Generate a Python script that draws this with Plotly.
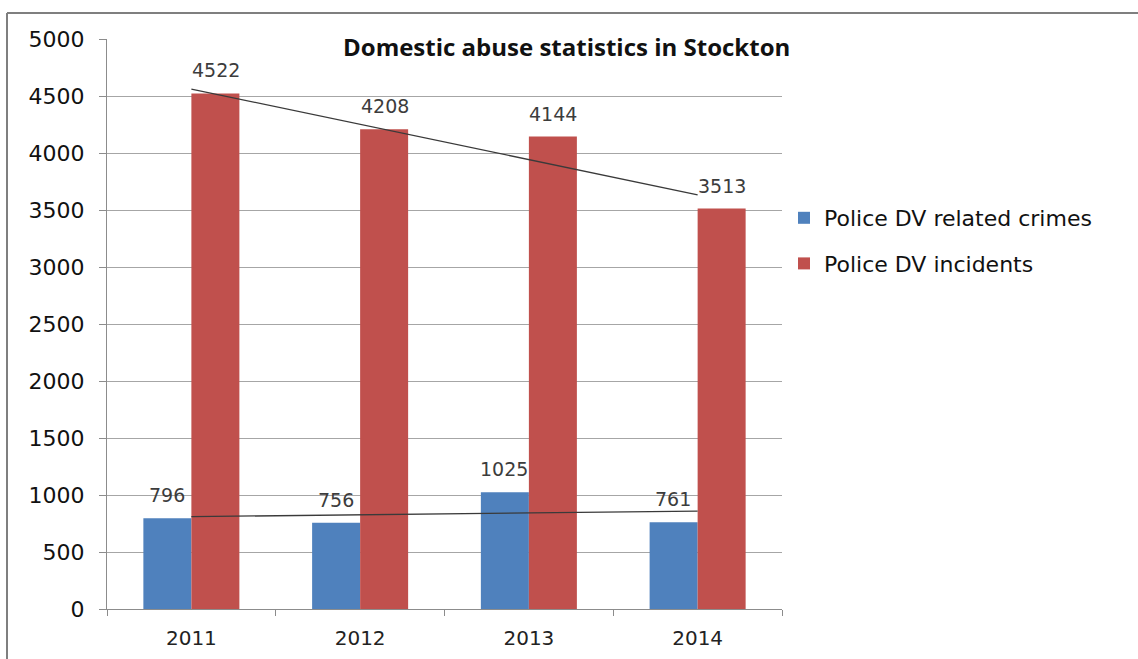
import numpy as np
import plotly.graph_objects as go

# Chart data
years = ["2011", "2012", "2013", "2014"]
dv_crimes = [796, 756, 1025, 761]
dv_incidents = [4522, 4208, 4144, 3513]
series_names = ["Police DV related crimes", "Police DV incidents"]
y_ticks = [0, 500, 1000, 1500, 2000, 2500, 3000, 3500, 4000, 4500, 5000]
title_text = "Domestic abuse statistics in Stockton"

BLUE = "#4F81BD"
RED = "#C0504D"
FONT = "DejaVu Sans"
TITLE_FONT = "Open Sans"

W, H = 1138, 659
ML, MR, MT, MB = 107, 356, 39, 50
PW, PH = W - ML - MR, H - MT - MB


def px_x(px):
    return (px - ML) / PW


def px_y(py):
    return 1 - (py - MT) / PH


fig = go.Figure()
fig.add_trace(go.Bar(x=years, y=dv_crimes, name=series_names[0],
                     marker=dict(color=BLUE, line=dict(width=0)),
                     legendgroup="a"))
fig.add_trace(go.Bar(x=years, y=dv_incidents, name=series_names[1],
                     marker=dict(color=RED, line=dict(width=0)),
                     legendgroup="b"))

# Linear trendlines through the category centres
idx = np.arange(len(years))
for vals in (dv_crimes, dv_incidents):
    slope, icpt = np.polyfit(idx, vals, 1)
    fit = slope * idx + icpt
    fig.add_trace(go.Scatter(x=[years[0], years[-1]], y=[float(fit[0]), float(fit[-1])],
                             mode="lines", showlegend=False, hoverinfo="skip",
                             line=dict(color="#3a3a3a", width=1.3)))

# Value labels above each bar
ann = []
bar_half = 24.4
for shift, vals in ((-bar_half, dv_crimes), (bar_half, dv_incidents)):
    for yr, v in zip(years, vals):
        ann.append(dict(x=years.index(yr), xref="x", y=v, text=str(v),
                        showarrow=False, xshift=shift, yshift=23,
                        yanchor="middle",
                        font=dict(family=FONT, size=19, color="#3c3c3c")))

ann.append(dict(xref="paper", yref="paper", x=px_x(566), y=px_y(46),
                text="<b>" + title_text + "</b>", showarrow=False,
                xanchor="center", yanchor="middle", bgcolor="white",
                font=dict(family=TITLE_FONT, size=24, color="#111111")))

shapes = [
    dict(type="line", xref="paper", yref="paper", x0=px_x(7), x1=px_x(7),
         y0=px_y(13), y1=px_y(H + 5), line=dict(color="#7f7f7f", width=2)),
    dict(type="line", xref="paper", yref="paper", x0=px_x(7), x1=px_x(W + 5),
         y0=px_y(13), y1=px_y(13), line=dict(color="#7f7f7f", width=2)),
]

fig.update_layout(
    width=W, height=H,
    margin=dict(l=ML, r=MR, t=MT, b=MB, pad=0, autoexpand=False),
    paper_bgcolor="white", plot_bgcolor="white",
    barmode="group", bargap=0.431, bargroupgap=0,
    showlegend=True,
    legend=dict(x=px_x(784), y=px_y(241), xanchor="left", yanchor="middle",
                font=dict(family=FONT, size=22, color="#111111"),
                tracegroupgap=14, bgcolor="rgba(0,0,0,0)",
                itemwidth=30),
    annotations=ann, shapes=shapes,
    font=dict(family=FONT),
)

fig.update_xaxes(type="category", categoryorder="array", categoryarray=years,
                 range=[-0.5, len(years) - 0.5], autorange=False,
                 automargin=False,
                 showline=True, linecolor="#8c8c8c", linewidth=1,
                 ticks="outside", ticklen=6, tickcolor="#8c8c8c",
                 tickson="boundaries", showgrid=False, ticklabelstandoff=11,
                 tickfont=dict(family=FONT, size=20, color="#222222"))
fig.update_yaxes(range=[0, 5000], tickvals=y_ticks, automargin=False,
                 showline=True, linecolor="#8c8c8c", linewidth=1,
                 ticks="outside", ticklen=7, tickcolor="#8c8c8c",
                 showgrid=True, gridcolor="#a6a6a6", gridwidth=1,
                 zeroline=False, ticklabelstandoff=10,
                 tickfont=dict(family=FONT, size=22, color="#111111"))

fig.write_html("out.html")
